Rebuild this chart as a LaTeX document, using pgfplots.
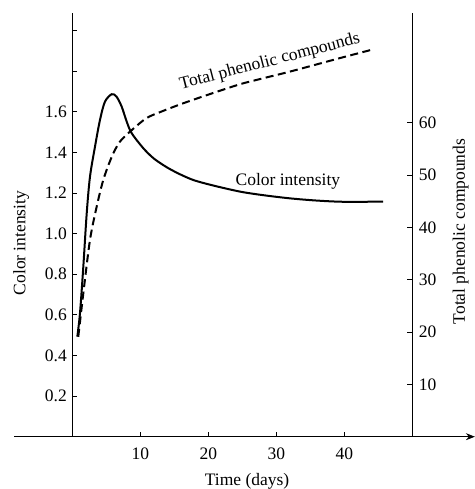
\documentclass[border=0pt]{standalone}
\usepackage{fontspec}
\setmainfont{Liberation Serif}
\usepackage{pgfplots}
\pgfplotsset{compat=1.18}
\usetikzlibrary{arrows.meta}
\newcommand{\lf}{\fontsize{17.5}{20}\selectfont}
\begin{document}
\begin{tikzpicture}
\begin{axis}[
  scale only axis, x=6.8pt, y=203pt,
  xmin=-8.5, xmax=59.2, ymin=0, ymax=2.0857,
  axis x line=middle, axis y line=middle,
  x axis line style={-{Stealth[length=9pt,width=7pt]}},
  y axis line style={-},
  axis line style={line width=0.9pt},
  tick align=inside, major tick length=5pt,
  tick style={line width=0.9pt, black},
  xtick={10,20,30,40}, xticklabels={10,20,30,40},
  ytick={0.2,0.4,0.6,0.8,1.0,1.2,1.4,1.6,1.8,2.0},
  yticklabels={0.2,0.4,0.6,0.8,1.0,1.2,1.4,1.6,{},{}},
  ticklabel style={font=\lf},
  xticklabel style={anchor=north, yshift=-8pt},
  yticklabel style={anchor=east, xshift=-2pt},
  clip=false,
]
\addplot[black, line width=2pt, smooth, tension=0.5] coordinates {
(0.74,0.493) (1.13,0.608) (1.62,0.837) (2.12,1.10) (2.6,1.28) (3.34,1.429)
(4.07,1.56) (4.8,1.65) (5.8,1.687) (6.5,1.675) (7.26,1.626) (8.0,1.552)
(8.73,1.495) (10.44,1.421) (12,1.37) (14,1.325) (16,1.29) (18,1.262)
(21,1.235) (24.7,1.207) (28,1.19) (32,1.174) (36,1.163) (40,1.157) (45.7,1.158)};
\node[font=\lf] at (axis cs:31.7,1.256) {Color intensity};
\node[font=\lf, rotate=14.5] at (axis cs:29.05,1.846) {Total phenolic compounds};
\node[font=\lf, anchor=base] at (axis cs:25.7,-0.238) {Time (days)};
\node[font=\lf, rotate=90] at (axis cs:-7.5,0.954) {Color intensity};
\node[font=\lf, rotate=90] at (axis cs:57.09,1.011) {Total phenolic compounds};
\coordinate (bl) at (axis cs:-10.63,-0.2576);
\coordinate (tr) at (axis cs:59.07,2.151);
\end{axis}
\begin{axis}[
  scale only axis, x=6.8pt, y=5.23pt,
  xmin=-8.5, xmax=50, ymin=0, ymax=80.96,
  axis x line=none, axis y line=right,
  y axis line style={-, line width=0.9pt},
  tick align=inside, major tick length=5pt,
  tick style={line width=0.9pt, black},
  ytick={10,20,30,40,50,60}, yticklabels={10,20,30,40,50,60},
  yticklabel style={font=\lf, anchor=west, xshift=3pt},
  clip=false,
]
\addplot[black, line width=2pt, dash pattern=on 8pt off 4.5pt, smooth, tension=0.5] coordinates {
(0.88,19.1) (1.62,27.4) (2.6,37.6) (3.59,44.0) (4.56,49.1) (5.8,53.5)
(7.0,56.4) (8.73,58.6) (10.9,60.9) (13,62.1) (16,63.6) (20,65.4)
(24.7,67.4) (28,68.5) (32,69.8) (36,71.2) (39.4,72.4) (43.8,73.9)};
\end{axis}
\pgfresetboundingbox
\path (bl) rectangle (tr);
\end{tikzpicture}
\end{document}
